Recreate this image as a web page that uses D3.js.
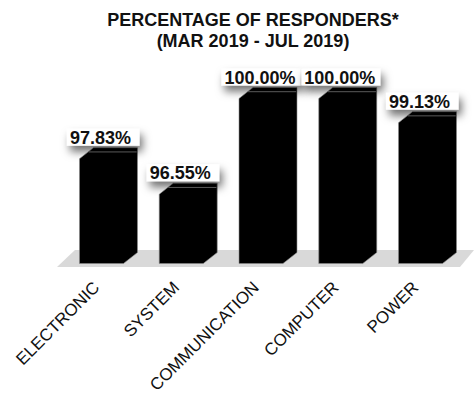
<!DOCTYPE html>
<html>
<head>
<meta charset="utf-8">
<script src="https://cdn.jsdelivr.net/npm/d3@7"></script>
<style>
  html, body { margin: 0; padding: 0; background: #fff; }
  svg { display: block; font-family: "Liberation Sans", Arial, sans-serif; }
</style>
</head>
<body>
<div id="chart"></div>
<script>
const categories = ["ELECTRONIC", "SYSTEM", "COMMUNICATION", "COMPUTER", "POWER"];
const values = [97.83, 96.55, 100.00, 100.00, 99.13];
const valueLabels = ["97.83%", "96.55%", "100.00%", "100.00%", "99.13%"];
const titleLines = ["PERCENTAGE OF RESPONDERS*", "(MAR 2019 - JUL 2019)"];
const yDomain = [94, 100];

const W = 474, H = 400;
const svg = d3.select("#chart").append("svg").attr("width", W).attr("height", H);

const defs = svg.append("defs");
const f = defs.append("filter").attr("id", "lblShadow")
  .attr("x", "-40%").attr("y", "-60%").attr("width", "180%").attr("height", "260%");
f.append("feDropShadow").attr("dx", 3).attr("dy", 6).attr("stdDeviation", 4.5)
  .attr("flood-color", "#000").attr("flood-opacity", 0.55);

const x = d3.scaleBand().domain(categories).range([68.6, 467.4])
  .paddingInner(0.273).paddingOuter(0.1365);
const y = d3.scaleLinear().domain(yDomain).range([254, 87.5]);

const depthX = 14, depthY = 11;
const base = y(yDomain[0]) + 9.5;

// title
svg.append("g").selectAll("text").data(titleLines).join("text")
  .attr("x", 253).attr("y", (d, i) => 26 + i * 21)
  .attr("text-anchor", "middle")
  .attr("font-size", 18).attr("font-weight", "bold").attr("fill", "#111")
  .text(d => d);

// floor
const [r0, r1] = x.range();
const floorTop = y(yDomain[0]) - 4;
const floorBot = base + 3.5;
svg.append("path")
  .attr("d", `M${r0 - 11.6},${floorBot} L${r0 + 6.4},${floorTop} L${r1 + 6.6},${floorTop} L${r1 - 7.4},${floorBot} Z`)
  .attr("fill", "#d9d9d9");

const data = categories.map((c, i) => ({ c, v: values[i], l: valueLabels[i] }));

// bars
const bars = svg.append("g");
data.forEach(d => {
  const x0 = x(d.c), w = x.bandwidth(), top = y(d.v);
  const pts = [
    [x0, top + depthY], [x0 + depthX, top], [x0 + w, top],
    [x0 + w, base - depthY], [x0 + w - depthX, base], [x0, base]
  ];
  bars.append("polygon").attr("points", pts.map(p => p.join(",")).join(" "))
    .attr("fill", "#000").attr("stroke", "#8a8a8a").attr("stroke-width", 0.6);
  bars.append("line")
    .attr("x1", x0 + depthX * 0.65).attr("x2", x0 + w - 0.8)
    .attr("y1", top + 4.2).attr("y2", top + 4.2)
    .attr("stroke", "#7a7a7a").attr("stroke-width", 1);
});

// value labels
const lbls = svg.append("g");
data.forEach(d => {
  const x0 = x(d.c), w = x.bandwidth(), top = y(d.v);
  const cx = x0 + (w - depthX) / 2 - 1;
  const g = lbls.append("g");
  const rect = g.append("rect").attr("fill", "#fff").attr("filter", "url(#lblShadow)");
  const t = g.append("text").attr("x", cx).attr("y", top - 4)
    .attr("text-anchor", "middle").attr("font-size", 18).attr("font-weight", "bold")
    .attr("fill", "#111").text(d.l);
  const bb = t.node().getBBox();
  rect.attr("x", bb.x - 3).attr("y", bb.y + 1)
    .attr("width", Math.max(bb.width + 8, x0 + w + 2 - (bb.x - 3)))
    .attr("height", top - 2 - (bb.y + 1));
});

// category labels
svg.append("g").selectAll("text").data(categories).join("text")
  .attr("transform", d => `translate(${x(d) + (x.bandwidth() - depthX) / 2 - 1},${base + 25}) rotate(-45)`)
  .attr("text-anchor", "end")
  .attr("font-size", 17).attr("fill", "#111")
  .text(d => d);
</script>
</body>
</html>
